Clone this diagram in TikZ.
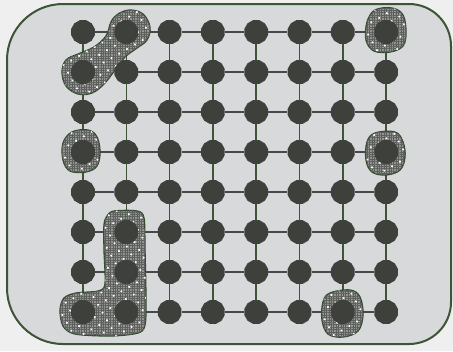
\documentclass[tikz,border=0pt]{standalone}
\usetikzlibrary{shapes.geometric,patterns.meta}
\pgfdeclarelayer{bg}
\pgfdeclarelayer{lines}
\pgfdeclarelayer{blobs}
\pgfsetlayers{bg,lines,blobs,main}
\definecolor{outside}{HTML}{EFEFEF}
\definecolor{panel}{HTML}{D8D9DB}
\definecolor{frame}{HTML}{3E5436}
\definecolor{dotc}{HTML}{3D403B}
\definecolor{hline}{HTML}{474847}
\definecolor{vline}{HTML}{3B5634}
\definecolor{blobfill}{HTML}{939492}
\definecolor{blobhatch}{HTML}{5E605D}
\definecolor{blobedge}{HTML}{2F4A2A}
\tikzset{
  dotnode/.style={regular polygon, regular polygon sides=12, minimum size=24.5bp, inner sep=0pt, fill=dotc, draw=none},
  hconn/.style={draw=hline, line width=1.5bp},
  vconn/.style={draw=vline, line width=1.5bp},
  blob/.style={draw=blobedge, line width=1.3bp, fill=blobfill,
    postaction={pattern={Hatch[distance=2.4bp, line width=0.45bp]}, pattern color=blobhatch},
    postaction={pattern={Dots[distance=9bp, radius=1.2bp, angle=30]}, pattern color=white}},
  frameline/.style={draw=frame, line width=2bp, fill=panel}
}
\begin{document}
\begin{tikzpicture}[x=1bp,y=-1bp]
\begin{pgfonlayer}{bg}
\fill[outside] (0,0) rectangle (453,351);
\path[frameline] (63,4) -- (409,4) arc[start angle=-90, end angle=0, radius=42]
  -- (451,302) arc[start angle=0, end angle=90, radius=42]
  -- (63,344) arc[start angle=90, end angle=180, radius=56]
  -- (7,60) arc[start angle=180, end angle=270, radius=56] -- cycle;
\end{pgfonlayer}
\useasboundingbox (0,0) rectangle (453,351);
% nodes
\foreach \i in {0,...,7}{
  \foreach \j in {0,...,7}{
    \node[dotnode] (n-\i-\j) at ({83+43.3*\i},{32+40*\j}) {};
  }
}
% connectors
\begin{pgfonlayer}{lines}
\foreach \i [evaluate=\i as \ni using int(\i+1)] in {0,...,6}{
  \foreach \j in {0,...,7}{
    \draw[hconn] (n-\i-\j) -- (n-\ni-\j);
    \draw[vconn] (n-\j-\i) -- (n-\j-\ni);
  }
}
\end{pgfonlayer}
% highlighted regions
\begin{pgfonlayer}{blobs}
\path[blob] plot[smooth cycle, tension=0.6] coordinates {(118,14) (130,10) (143,14) (150,27) (147,40) (137,48) (125,57) (115,70) (104,84) (92,93) (78,94) (66,86) (62,72) (66,60) (78,54) (94,47) (106,36) (111,22)};
\path[blob] plot[smooth cycle, tension=0.6] coordinates {(72,132) (88,130) (97,137) (100,152) (97,166) (86,172) (70,171) (63,160) (63,143)};
\path[blob] plot[smooth cycle, tension=0.6] coordinates {(375,10) (392,8) (403,15) (406,32) (403,46) (390,52) (374,51) (366,40) (367,22)};
\path[blob] plot[smooth cycle, tension=0.6] coordinates {(375,133) (395,132) (403,142) (405,157) (400,170) (386,175) (372,172) (366,160) (367,142)};
\path[blob] plot[smooth cycle, tension=0.6] coordinates {(330,293) (350,290) (360,297) (363,315) (358,331) (343,337) (328,334) (322,320) (323,302)};
\path[blob] plot[smooth cycle, tension=0.5] coordinates {(107,216) (114,211) (137,211) (144,218) (145,250) (146,300) (145,325) (138,333) (110,336) (75,334) (63,326) (60,310) (64,298) (76,293) (98,291) (105,284) (104,250) (104,225)};
\end{pgfonlayer}
\end{tikzpicture}
\end{document}
